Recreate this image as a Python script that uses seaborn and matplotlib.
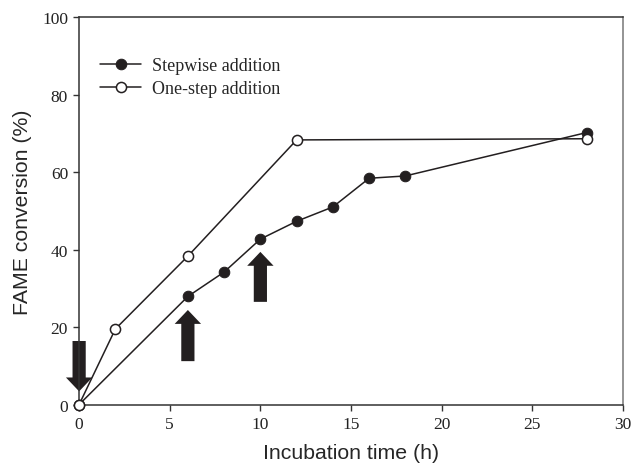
import matplotlib
matplotlib.use("Agg")
import matplotlib.pyplot as plt
import numpy as np
import pandas as pd
import seaborn as sns
from matplotlib.patches import FancyArrowPatch, ArrowStyle

# data
stepwise_time = [0, 6, 8, 10, 12, 14, 16, 18, 28]
stepwise_conv = [0, 27.9, 34.2, 42.7, 47.3, 51.0, 58.4, 59.0, 70.2]
onestep_time = [0, 2, 6, 12, 28]
onestep_conv = [0, 19.5, 38.3, 68.3, 68.6]

# feeding arrows: (time, start, end)
arrow_time = [0, 6, 10]
arrow_from = [16.4, 11.2, 26.5]
arrow_to = [3.4, 24.4, 39.4]

x_ticks = [0, 5, 10, 15, 20, 25, 30]
y_ticks = [0, 20, 40, 60, 80, 100]

sns.set_style("ticks")
plt.rcParams['font.family'] = ['Liberation Serif', 'DejaVu Serif']

df_step = pd.DataFrame({"time": stepwise_time, "conv": stepwise_conv})
df_one = pd.DataFrame({"time": onestep_time, "conv": onestep_conv})

ink = '#231f20'

fig = plt.figure(figsize=(6.33, 4.64), dpi=100)
ax = fig.add_axes([0.125, 0.126, 0.859, 0.835])

sns.lineplot(data=df_step, x="time", y="conv", ax=ax, color=ink, lw=1.1,
             marker='o', markersize=7.6, markerfacecolor=ink, markeredgecolor=ink,
             label="Stepwise addition", clip_on=False, zorder=3)
sns.lineplot(data=df_one, x="time", y="conv", ax=ax, color=ink, lw=1.1,
             marker='o', markersize=7.3, markerfacecolor='white', markeredgecolor=ink,
             markeredgewidth=1.1, label="One-step addition", clip_on=False, zorder=4)

style = ArrowStyle.Simple(head_length=10, head_width=19, tail_width=9.5)
for t, a, b in zip(arrow_time, arrow_from, arrow_to):
    ax.add_patch(FancyArrowPatch((t, a), (t, b), arrowstyle=style, mutation_scale=1,
                                 shrinkA=0, shrinkB=0, color=ink, lw=0, zorder=2,
                                 clip_on=False))

ax.set_xlim(0, 30)
ax.set_ylim(0, 100)
ax.set_xticks(x_ticks)
ax.set_yticks(y_ticks)
ax.tick_params(direction='out', length=4, width=1, labelsize=12.5, colors='#333333',
               labelcolor='#222222', pad=4)

for side in ['left', 'bottom', 'top']:
    ax.spines[side].set_color('#333333')
    ax.spines[side].set_linewidth(1.1)
ax.spines['right'].set_color('#777777')
ax.spines['right'].set_linewidth(1.1)

ax.set_xlabel("Incubation time (h)", family=['Liberation Sans', 'DejaVu Sans'],
              fontsize=15.3, labelpad=8)
ax.set_ylabel("FAME conversion (%)", family=['Liberation Sans', 'DejaVu Sans'],
              fontsize=15.3, labelpad=7)

ax.legend(loc='upper left', bbox_to_anchor=(0.038, 0.897), frameon=False,
          fontsize=13, handlelength=2.3, handletextpad=0.6, labelspacing=0.35,
          borderpad=0, borderaxespad=0)

fig.savefig("out.png", dpi=100)
